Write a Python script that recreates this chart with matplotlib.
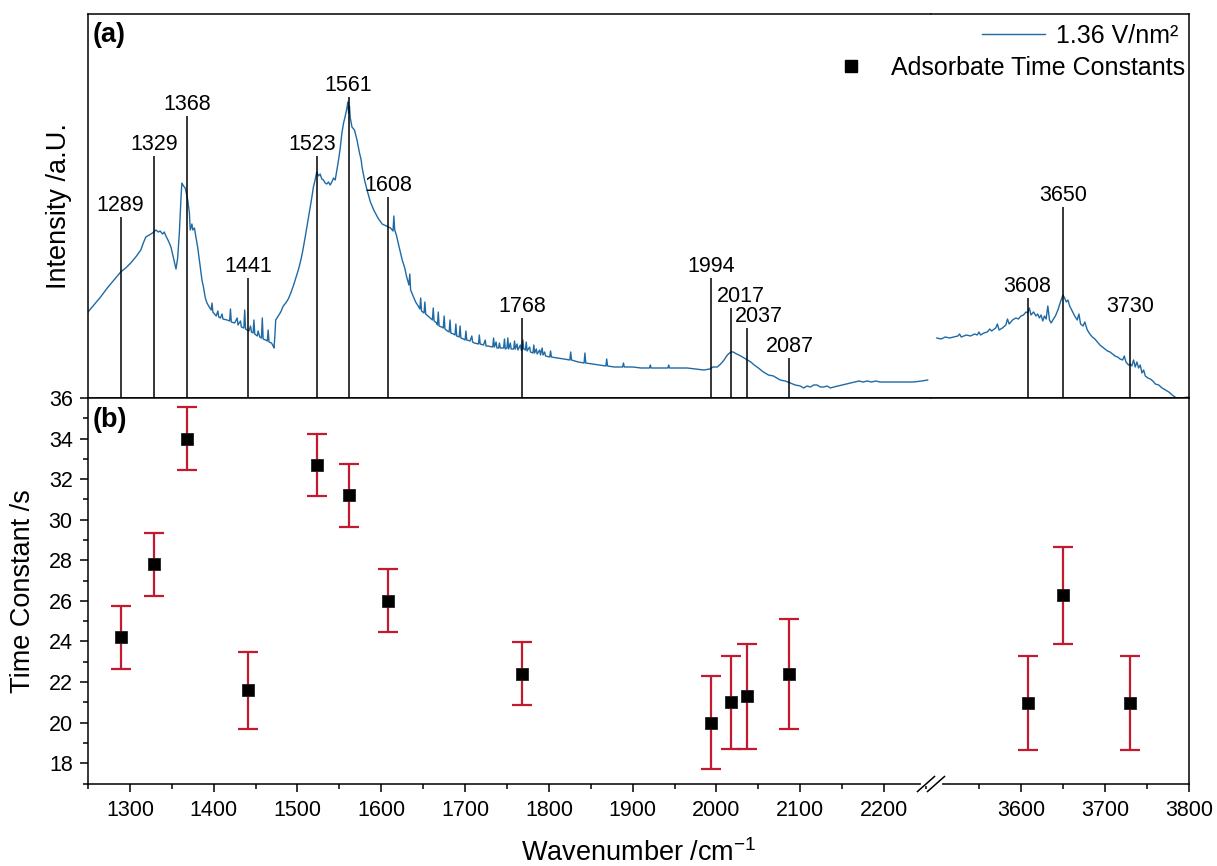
import numpy as np
import matplotlib
matplotlib.use("Agg")
import matplotlib.pyplot as plt
from matplotlib.lines import Line2D

plt.rcParams['font.family'] = ['Liberation Sans', 'DejaVu Sans']
plt.rcParams['mathtext.fontset'] = 'custom'
plt.rcParams['mathtext.rm'] = 'Liberation Sans'
plt.rcParams['mathtext.it'] = 'Liberation Sans:italic'

# ---- (a) spectrum, 1.36 V/nm^2 (intensity in arbitrary units)
SPEC_LOW = [
    (1250, 86), (1258, 94), (1265, 101), (1273, 110), (1280, 117), (1289, 126), (1295, 130),
    (1301, 135), (1307, 141), (1313, 148), (1316, 155), (1319, 161), (1323, 163), (1327, 165),
    (1331, 168), (1334, 166), (1336, 167), (1339, 164), (1341, 166), (1343, 162), (1346, 157),
    (1349, 151), (1352, 140), (1355, 129), (1357, 140), (1359, 165), (1361, 200), (1362, 215),
    (1364, 212), (1366, 210), (1368, 202), (1369, 198), (1371, 185), (1372, 168), (1374, 174),
    (1375, 168), (1377, 170), (1378, 165), (1381, 150), (1384, 131), (1386, 118), (1388, 110),
    (1390, 100), (1392, 95), (1394, 92), (1397, 88), (1398, 95), (1399, 86), (1403, 82),
    (1405, 87), (1406, 81), (1408, 80), (1410, 84), (1411, 79), (1416, 78), (1419, 77),
    (1420, 89), (1421, 76), (1425, 75), (1428, 80), (1429, 73), (1432, 77), (1433, 71),
    (1436, 70), (1437, 88), (1438, 69), (1442, 67), (1444, 72), (1445, 66), (1447, 65),
    (1448, 78), (1449, 64), (1452, 62), (1453, 67), (1455, 61), (1457, 60), (1458, 80),
    (1459, 59), (1462, 58), (1464, 57), (1465, 68), (1466, 56), (1469, 55), (1471, 52),
    (1472, 50), (1473, 62), (1474, 78), (1477, 82), (1480, 86), (1483, 92), (1486, 95),
    (1489, 99), (1492, 105), (1495, 112), (1498, 120), (1501, 128), (1504, 138), (1506, 146),
    (1509, 160), (1511, 170), (1514, 185), (1517, 200), (1519, 211), (1521, 218), (1523, 226),
    (1525, 222), (1527, 224), (1529, 219), (1531, 218), (1533, 215), (1535, 214), (1537, 216),
    (1539, 213), (1541, 216), (1543, 220), (1545, 218), (1547, 228), (1549, 238), (1551, 250),
    (1553, 265), (1555, 275), (1557, 282), (1559, 290), (1560, 296), (1561, 285), (1562, 292),
    (1563, 280), (1565, 271), (1568, 268), (1571, 258), (1574, 245), (1576, 238), (1577, 231),
    (1580, 218), (1583, 208), (1587, 196), (1591, 188), (1596, 180), (1601, 174), (1606, 172),
    (1611, 170), (1614, 167), (1615, 182), (1616, 168), (1618, 163), (1621, 152), (1625, 138),
    (1628, 130), (1630, 122), (1633, 113), (1634, 124), (1635, 108), (1638, 102), (1641, 96),
    (1644, 92), (1646, 89), (1647, 100), (1648, 87), (1651, 85), (1652, 96), (1653, 84),
    (1657, 81), (1661, 78), (1662, 90), (1663, 77), (1666, 75), (1667, 73), (1668, 86),
    (1669, 72), (1672, 71), (1674, 70), (1675, 82), (1676, 69), (1679, 67), (1681, 66),
    (1682, 78), (1683, 65), (1686, 64), (1688, 63), (1689, 74), (1690, 62), (1693, 61),
    (1694, 72), (1695, 60), (1698, 59), (1700, 58), (1701, 67), (1702, 58), (1706, 57),
    (1708, 62), (1709, 56), (1711, 55), (1716, 54), (1717, 63), (1718, 54), (1722, 53),
    (1724, 58), (1725, 52), (1727, 52), (1733, 51), (1734, 60), (1735, 51), (1737, 56),
    (1738, 50), (1740, 50), (1741, 55), (1742, 50), (1746, 50), (1747, 59), (1748, 49),
    (1750, 50), (1751, 60), (1752, 49), (1754, 55), (1755, 49), (1758, 49), (1759, 57),
    (1760, 49), (1762, 54), (1763, 48), (1766, 53), (1767, 48), (1768, 48), (1769, 58),
    (1770, 49), (1772, 48), (1773, 56), (1774, 47), (1777, 51), (1778, 46), (1781, 45),
    (1782, 53), (1783, 45), (1785, 49), (1786, 44), (1789, 48), (1790, 43), (1792, 50),
    (1793, 43), (1795, 46), (1796, 42), (1801, 41), (1802, 47), (1803, 41), (1810, 40),
    (1818, 39), (1825, 38), (1826, 46), (1827, 38), (1835, 36), (1842, 35), (1843, 45),
    (1844, 35), (1852, 34), (1860, 33), (1868, 32), (1869, 39), (1870, 32), (1878, 31),
    (1888, 31), (1889, 35), (1890, 31), (1900, 31), (1910, 30), (1920, 30), (1921, 33),
    (1922, 30), (1935, 30), (1942, 30), (1943, 33), (1944, 30), (1955, 30), (1965, 30),
    (1975, 29), (1985, 28), (1992, 29), (1996, 31), (2001, 31), (2005, 34), (2009, 38),
    (2013, 43), (2017, 46), (2020, 46), (2024, 44), (2029, 42), (2033, 40), (2037, 38),
    (2041, 36), (2045, 33), (2050, 30), (2056, 26), (2062, 23), (2068, 22), (2076, 18),
    (2082, 17), (2088, 15), (2094, 13), (2100, 12), (2104, 10), (2108, 12), (2112, 11),
    (2116, 13), (2120, 13), (2124, 11), (2128, 11), (2132, 12), (2136, 10), (2140, 11),
    (2145, 12), (2150, 13), (2155, 14), (2160, 15), (2165, 16), (2170, 17), (2175, 16),
    (2180, 17), (2185, 16), (2190, 17), (2195, 16), (2204, 16), (2215, 16), (2225, 16),
    (2235, 16), (2245, 17), (2252, 18),
]
SPEC_HIGH = [
    (3500, 60), (3505, 59), (3510, 61), (3515, 60), (3520, 61), (3525, 62), (3527, 64),
    (3529, 61), (3535, 63), (3540, 62), (3545, 64), (3548, 63), (3550, 66), (3552, 63),
    (3556, 65), (3560, 66), (3563, 69), (3565, 67), (3570, 70), (3572, 74), (3574, 68),
    (3578, 70), (3582, 73), (3584, 79), (3586, 74), (3590, 78), (3594, 80), (3597, 79),
    (3600, 82), (3603, 83), (3606, 86), (3608, 85), (3610, 90), (3612, 83), (3615, 86),
    (3618, 82), (3620, 84), (3622, 80), (3624, 83), (3626, 77), (3628, 82), (3630, 79),
    (3632, 92), (3634, 78), (3636, 75), (3638, 78), (3641, 82), (3644, 88), (3647, 96),
    (3650, 103), (3652, 100), (3654, 96), (3656, 98), (3658, 92), (3661, 87), (3664, 82),
    (3667, 78), (3669, 84), (3671, 74), (3674, 72), (3676, 76), (3679, 68), (3682, 64),
    (3685, 61), (3688, 59), (3691, 56), (3694, 53), (3697, 51), (3700, 49), (3703, 47),
    (3706, 46), (3709, 44), (3712, 42), (3715, 41), (3718, 39), (3721, 38), (3723, 42),
    (3725, 36), (3728, 33), (3730, 34), (3732, 32), (3734, 38), (3736, 31), (3738, 36),
    (3740, 30), (3742, 33), (3744, 25), (3746, 28), (3748, 22), (3751, 20), (3754, 19),
    (3757, 17), (3760, 14), (3764, 13), (3768, 10), (3772, 8), (3776, 6), (3780, 3),
    (3785, 0), (3790, 0), (3800, 1),
]

# peak markers in (a): position and drop-line height
PEAK_WN = [1289, 1329, 1368, 1441, 1523, 1561, 1608, 1768, 1994, 2017, 2037, 2087, 3608, 3650, 3730]
PEAK_H = [181, 242, 282, 120, 242, 301, 201, 80, 120, 90, 70, 40, 100, 191, 80]

# ---- (b) adsorbate time constants
TC_WN = [1289, 1329, 1368, 1441, 1523, 1561, 1608, 1768, 1994, 2017, 2037, 2087, 3608, 3650, 3730]
TC_VAL = [24.2, 27.8, 34.0, 21.6, 32.7, 31.2, 26.0, 22.4, 20.0, 21.0, 21.3, 22.4, 21.0, 26.3, 21.0]
TC_ERR = [1.55, 1.55, 1.55, 1.9, 1.55, 1.55, 1.55, 1.55, 2.3, 2.3, 2.6, 2.7, 2.3, 2.4, 2.3]

BLUE = '#1f6aa5'
RED = '#c41a30'
W, H = 1217, 866
X0, XB, X1 = 88, 931, 1189          # pixel columns: left edge, axis break, right edge
YT, YM, YB = 14, 398, 783.5         # pixel rows: top, panel split, bottom
LOW_LIM = (1250, 2256)
HIGH_LIM = (3493, 3800)
LABEL_SHIFT = {1523: -3.5, 2017: 7.5, 2037: 8.0}   # points

fig = plt.figure(figsize=(W / 100, H / 100), dpi=100)


def box(px0, px1, py0, py1):
    return [px0 / W, 1 - py1 / H, (px1 - px0) / W, (py1 - py0) / H]


ax_tl = fig.add_axes(box(X0, XB, YT, YM))
ax_tr = fig.add_axes(box(XB, X1, YT, YM))
ax_bl = fig.add_axes(box(X0, XB, YM, YB))
ax_br = fig.add_axes(box(XB, X1, YM, YB))

for ax in (ax_tl, ax_tr, ax_bl, ax_br):
    for s in ax.spines.values():
        s.set_linewidth(1.1)
for ax in (ax_tl, ax_bl):
    ax.spines['right'].set_visible(False)
    ax.set_xlim(*LOW_LIM)
for ax in (ax_tr, ax_br):
    ax.spines['left'].set_visible(False)
    ax.set_xlim(*HIGH_LIM)

# ---------------- (a) ----------------
lo = np.array(SPEC_LOW, dtype=float)
hi = np.array(SPEC_HIGH, dtype=float)
spec_line, = ax_tl.plot(lo[:, 0], lo[:, 1], color=BLUE, lw=1.0)
ax_tr.plot(hi[:, 0], hi[:, 1], color=BLUE, lw=1.0)

for ax in (ax_tl, ax_tr):
    ax.set_ylim(0, 384)
    ax.tick_params(left=False, right=False, top=False, bottom=False,
                   labelleft=False, labelbottom=False)

for wn, h in zip(PEAK_WN, PEAK_H):
    ax = ax_tl if wn < 3000 else ax_tr
    ax.vlines(wn, 0, h, color='black', lw=1.1)
    ax.annotate(str(wn), (wn, h), xytext=(LABEL_SHIFT.get(wn, 0), 4.3),
                textcoords='offset points', ha='center', va='baseline', fontsize=15.5)

ax_tl.text(5 / (XB - X0), 1 - 8 / (YM - YT), '(a)', transform=ax_tl.transAxes,
           ha='left', va='top', fontsize=19.5, fontweight='bold')
ax_tl.set_ylabel('Intensity /a.U.', fontsize=19.5)
ax_tl.yaxis.set_label_coords(-(X0 - 72) / (XB - X0), 0.5)

# ---------------- (b) ----------------
wn = np.array(TC_WN, dtype=float)
val = np.array(TC_VAL)
err = np.array(TC_ERR)
for ax, m in ((ax_bl, wn < 3000), (ax_br, wn > 3000)):
    ax.errorbar(wn[m], val[m], yerr=err[m], fmt='none', ecolor=RED, elinewidth=1.6,
                capsize=7.5, capthick=1.6, zorder=2)
    ax.plot(wn[m], val[m], 's', color='black', ms=8.5, mec='#202020', mew=0.6, zorder=3)
    ax.set_ylim(17.05, 36)
    ax.tick_params(axis='x', which='major', direction='out', length=6, width=1.1,
                   labelsize=15.5, pad=6, top=False)
    ax.tick_params(axis='x', which='minor', direction='out', length=3.5, width=1.1, top=False)

ax_bl.set_xticks(np.arange(1300, 2201, 100))
ax_bl.set_xticks(np.arange(1250, 2256, 100), minor=True)
ax_br.set_xticks([3600, 3700, 3800])
ax_br.set_xticks([3550, 3650, 3750], minor=True)

ax_bl.set_yticks(np.arange(18, 37, 2))
ax_bl.set_yticks(np.arange(17, 36, 2), minor=True)
ax_bl.tick_params(axis='y', which='major', direction='out', length=6, width=1.1,
                  labelsize=15.5, pad=5)
ax_bl.tick_params(axis='y', which='minor', direction='out', length=3.5, width=1.1)
ax_br.tick_params(axis='y', which='both', left=False, right=False, labelleft=False)

ax_bl.set_ylabel('Time Constant /s', fontsize=19.5)
ax_bl.yaxis.set_label_coords(-(X0 - 36) / (XB - X0), 0.5)
ax_bl.text(5 / (XB - X0), 1 - 9 / (YB - YM), '(b)', transform=ax_bl.transAxes,
           ha='left', va='top', fontsize=19.5, fontweight='bold')

fig.text((X0 + X1) / 2 / W, 1 - 861 / H, 'Wavenumber /cm$^{-1}$', ha='center',
         va='baseline', fontsize=19.5)

# axis break marks on the bottom axis
yb = YB + 0.5
fig.add_artist(Line2D([(XB - 8) / W, (XB + 9) / W], [1 - yb / H, 1 - yb / H],
                      color='white', lw=3, transform=fig.transFigure, zorder=10))
for dx in (-5, 5):
    fig.add_artist(Line2D([(XB + dx - 8.5) / W, (XB + dx + 8.5) / W],
                          [1 - (yb + 7.5) / H, 1 - (yb - 7.5) / H],
                          color='black', lw=1.1, transform=fig.transFigure, zorder=11))

# legends, two blocks right-aligned like the original
sq = Line2D([], [], ls='none', marker='s', color='black', ms=8.5)
leg1 = ax_tr.legend([spec_line], ['1.36 V/nm²'], loc='upper right',
                    bbox_to_anchor=(1 - 7 / (X1 - XB), 1 - 6 / (YM - YT)),
                    frameon=False, fontsize=18, handlelength=2.5, handletextpad=0.45,
                    borderaxespad=0.0, borderpad=0.15)
ax_tr.add_artist(leg1)
ax_tr.legend([sq], ['Adsorbate Time Constants'], loc='upper right',
             bbox_to_anchor=(1.0, 1 - 38 / (YM - YT)), frameon=False, fontsize=18,
             handlelength=2.8, handletextpad=0.2, borderaxespad=0.0, borderpad=0.15)

fig.savefig('out.png', dpi=100)
